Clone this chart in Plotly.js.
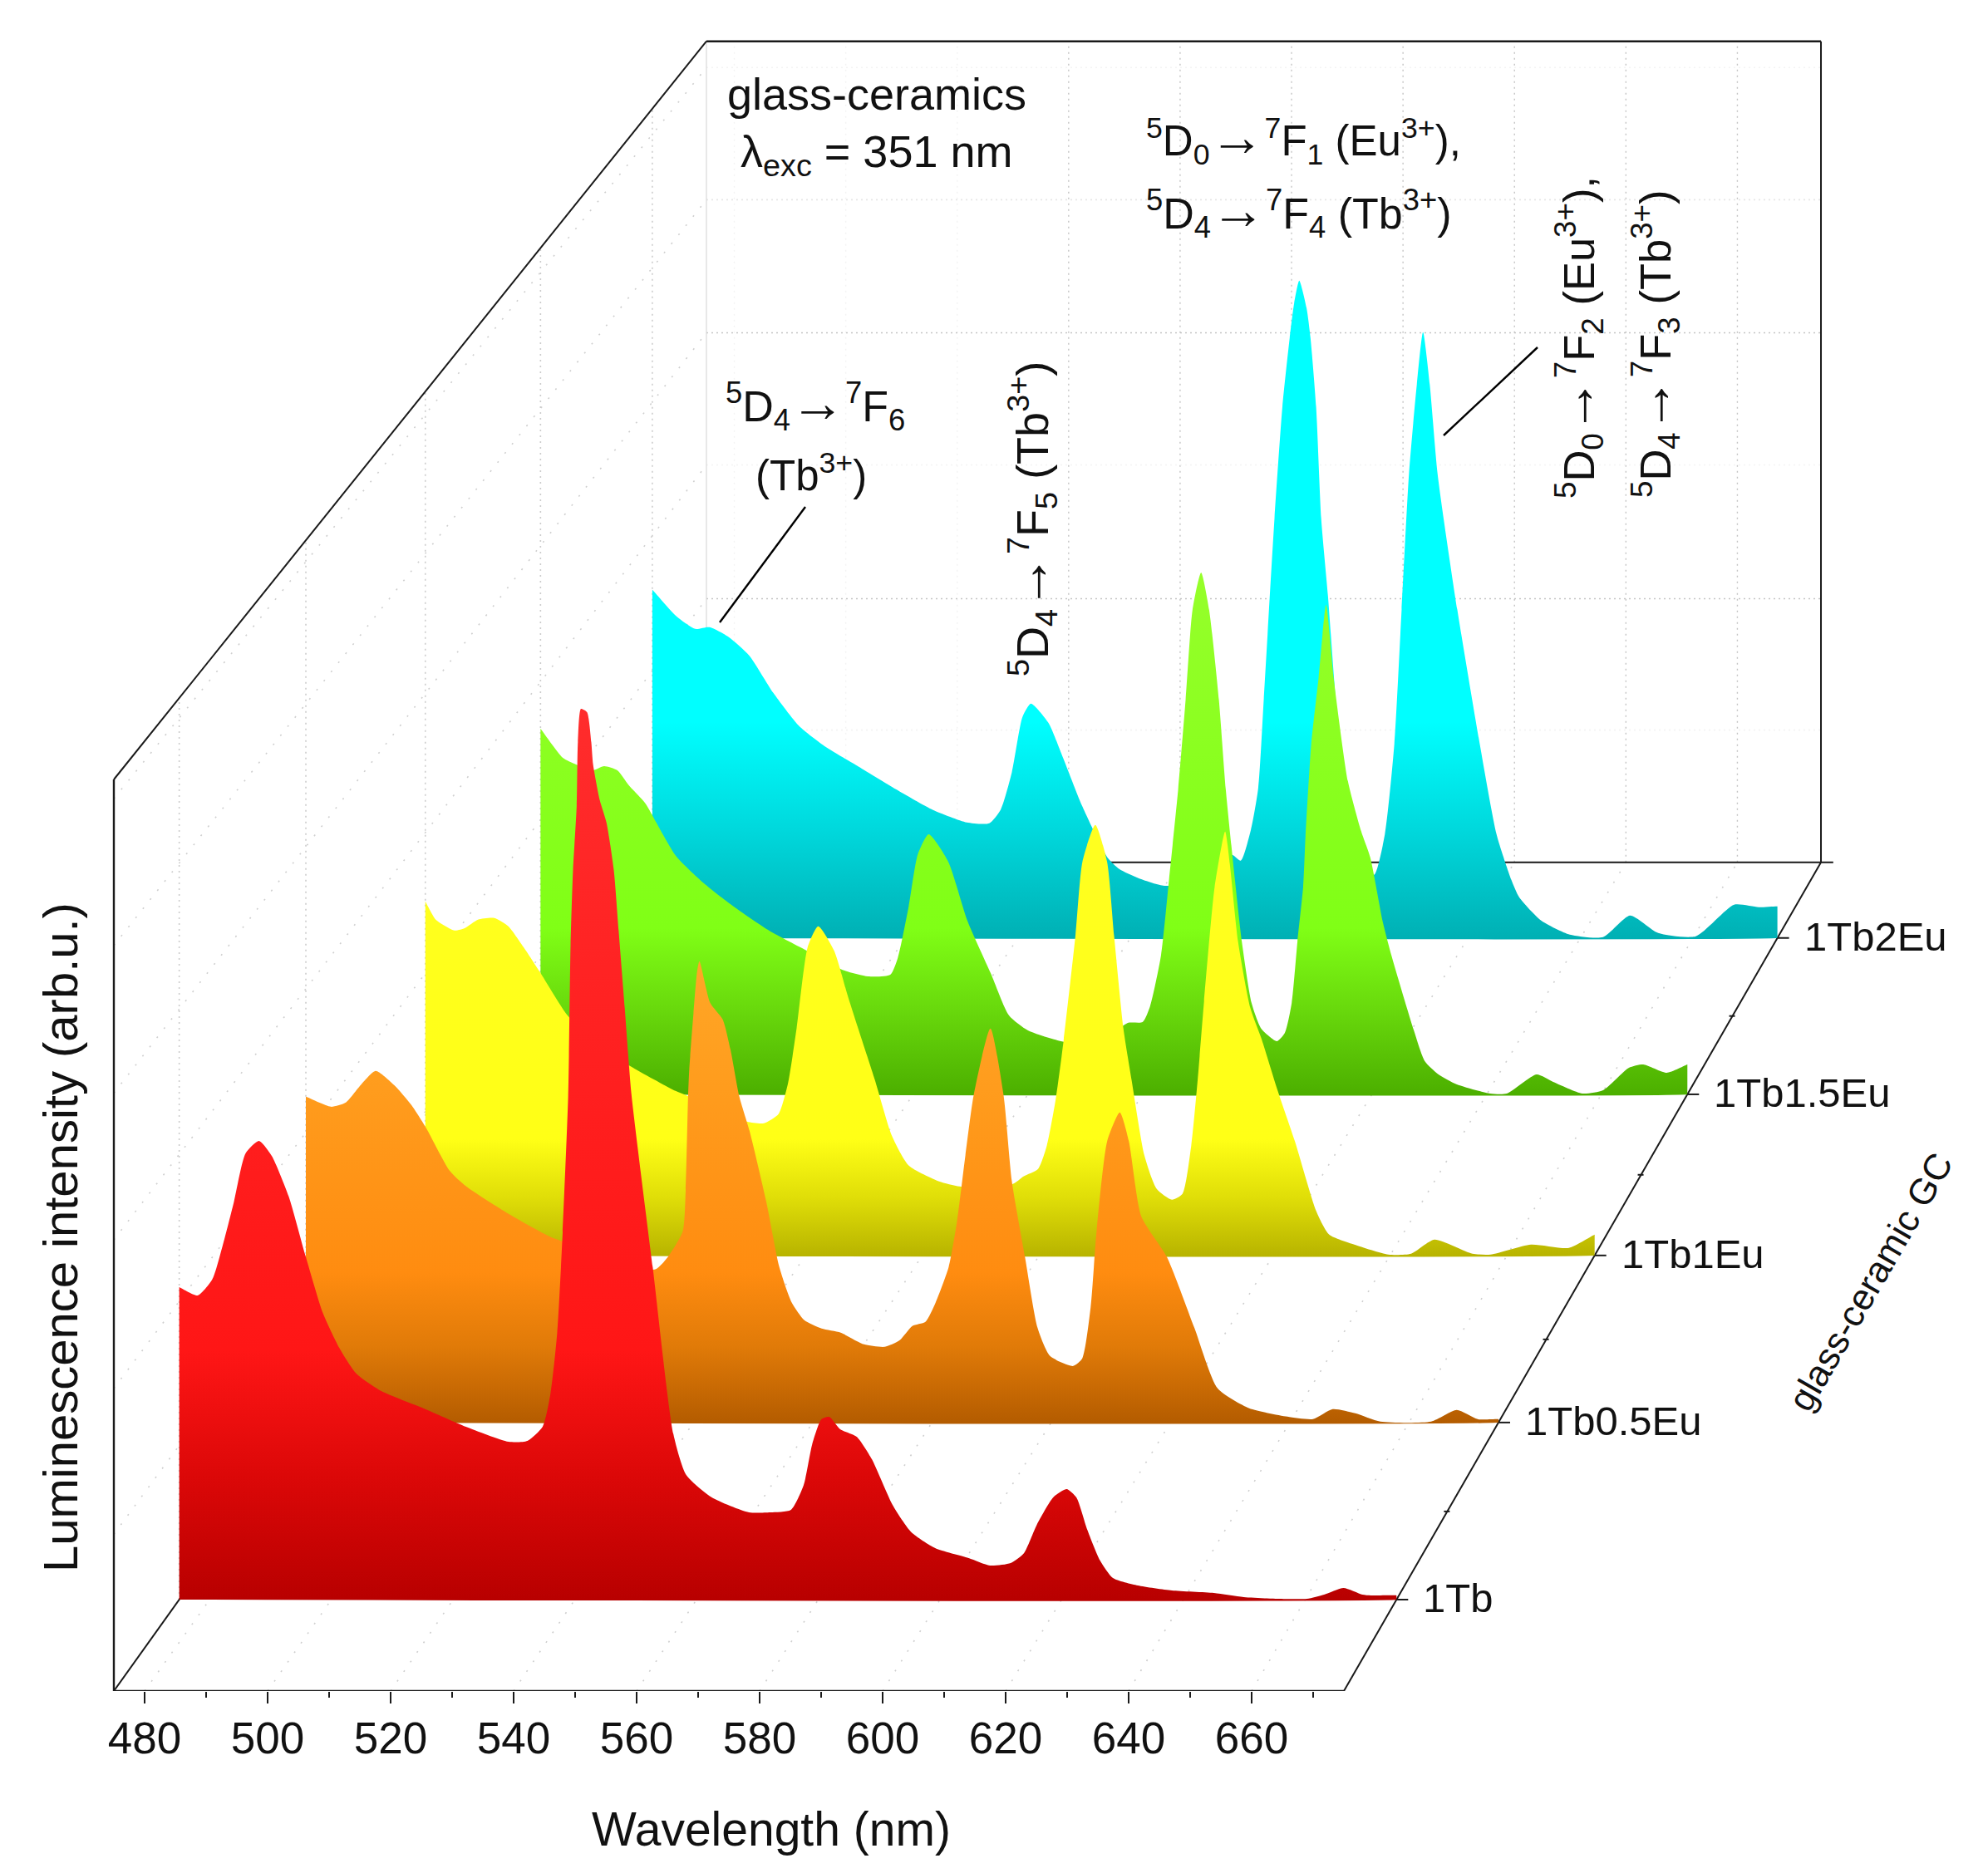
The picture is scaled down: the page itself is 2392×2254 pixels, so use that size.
<!DOCTYPE html>
<html><head><meta charset="utf-8">
<script src="https://cdn.plot.ly/plotly-3.0.1.min.js"></script>
<style>html,body{margin:0;padding:0;background:#fff}</style></head>
<body><div id="chart" style="width:2392px;height:2254px"></div>
<script>
// ---------- data ----------
const seriesNames = ['1Tb2Eu','1Tb1.5Eu','1Tb1Eu','1Tb0.5Eu','1Tb'];
const depthValues = [0.9087,0.720,0.5256,0.324,0.1103];
const wavelengthTicks = [480,500,520,540,560,580,600,620,640,660];
const wavelengthMinorTicks = [490,510,530,550,570,590,610,630,650,670];
const depthMinorTicks = [0.2167,0.4243,0.6229,0.8145];

const wl1Tb = [475,478,480.4,482.5,484,485.9,488.1,490.2,493,495.7,498.6,501.3,504.1,508.2,515.2,522.1,529.1,532.2,534.7,536,537.1,538,538.9,539.3,539.7,540.3,540.5,541,542,542.7,543,544.1,545.2,546.4,547.2,548.2,549.3,552.8,556.2,558.3,562.5,568.6,572.1,575.5,577.6,579,580.5,581.8,583.6,586.3,588.8,592.2,595.3,599.2,604.7,608.2,611.6,613.8,615.9,618.6,620.8,622.4,624.2,626.3,628.4,632.5,638.1,645,649.9,655.5,660.3,663.1,666.3,669.4,670.8,675];
const int1Tb = [37.6,36.6,38.5,43.6,47.9,53.7,55.2,53.4,48.5,41.5,34.5,30.3,27.2,25.1,23,20.8,19,19.1,20.8,24.8,32.1,44.2,60.5,78.8,87.8,95.5,103.2,107.2,106.8,103.2,100.5,96.2,93.5,87.8,80.5,71.2,60.8,40,19.9,15,12.3,10.5,10.5,10.8,13.8,18.7,21.7,22,20.5,19.6,16.9,11.4,8.1,6.2,5,4.1,4.4,5.6,9,12.3,13.3,12.3,8.4,4.7,2.6,1.7,1.1,0.8,0.3,0.1,0.1,0.6,1.4,0.6,0.5,0.5];

const wl05 = [475,479.2,481.7,484.2,486.7,489.8,492.7,495.2,499.1,501.9,509,516.1,521.5,533.5,535.7,538.2,538.7,539.1,539.3,540,540.6,541,542.8,544.9,546.2,547.7,549.4,552.2,554.4,556.5,558.6,561.5,564.7,568.6,572.1,574.6,576.7,578.9,580.6,582.8,584.2,585.6,587,589.8,592,593.4,595.6,597.7,599.8,603.7,605.2,606.6,607.6,609.4,611.5,613,615.1,619.4,624,627.9,633.2,639.6,643.9,647.2,651,655.2,663.7,668,671.5,675];
const int05 = [39.2,38,38.5,40.6,42.3,40.6,38.2,35.4,30.3,28.4,25.1,22.3,21,18.4,19.9,23,28,39.2,42.5,49.2,54.2,55.5,50.5,48.5,44.9,39.2,35.1,26.6,18.7,14.4,12.3,11.3,10.8,9.4,9.1,9.9,11.6,12.1,14.4,18.7,24.2,32.1,39.4,47.4,39.4,29,19.9,11.4,8,6.8,7.7,13.8,23,33.9,37.3,33.9,24.8,19.9,11.4,4.1,1.7,0.7,0.4,1.6,1.1,0.1,0.1,1.5,0.4,0.4];

const wl10 = [475,476.8,480,481.8,484,486.8,489.2,491.8,494.6,499.3,504.1,510,517.8,519.5,530,532.9,535.4,537,538.5,540.4,542.2,544.9,547.4,551.9,554.8,557.7,562.9,566.4,575.5,577.3,579.8,581.3,582.8,584.2,586.2,587.4,589.6,591.6,592.8,594.4,595.8,598,600.1,602.7,604.5,606,607.1,608.2,610,611.8,612.6,614,616.1,618,620.8,623.7,627.4,629.6,633.9,639.7,643.6,647.6,654.1,657.2,664.1,670.6,675];
const int10 = [42.6,40.4,39.1,39.4,40.4,40.6,39.6,37.1,34.1,28.9,25.5,22.8,19.8,19.3,16.1,15.9,17,20.6,27.3,37.1,39.6,36.7,30.9,21.1,14.4,10.8,8.9,8.3,8.6,9.5,10.4,13.2,18.7,26,38.5,47.4,51.8,47.4,38.5,27.3,21.1,12,8,6.7,7.4,13.2,21.1,30.6,44.3,51,47.1,37.8,29.8,26.1,19.8,13.8,5.3,2.5,1.3,0.1,0.2,1.9,0.2,0.1,1.3,0.9,2.5];

const wl15 = [475,478.9,481.2,484.1,486.1,488.4,490.4,493.3,495.2,498.6,503.5,508.5,514.9,521.7,527.6,532.1,536,537.3,539.2,540.8,542.7,546.1,549.5,553.5,556.7,560,566.4,572,577.4,580,581.3,583.2,584.6,586.2,587.5,588.7,590.2,591.6,593.3,594.5,596.1,597.3,599,600.7,603.4,604.8,606,607,608,608.4,609.4,610.7,612,613.3,615.8,618.1,619.7,621.9,623.4,627.3,629.2,631.6,634.8,640.6,643.5,648.7,651.6,656.7,660.3,664.8,667.3,671.4,675];
const int15 = [44,40.5,39.7,39,39.5,39,37.2,35,32.7,28.7,25.4,22.7,19.7,17.2,15,14.2,14.4,16.4,22.6,28.9,31.3,28,20.8,14.6,9.5,7.7,6.3,6,8.6,8.7,10.6,16.7,25.8,36.7,47.5,58.3,62.8,58.3,47.5,36.7,25.8,18.4,11,7.9,6.4,7.4,11,18.4,25,31,42.1,50.2,58.9,50.2,37.7,31.7,28.5,20.7,16.7,7.7,4,2.4,1.2,0.1,0.1,2.4,1.5,0.1,0.5,3.2,3.6,2.6,3.6];

const wl20 = [475,479.3,482.6,485.2,488.6,492.2,496.5,501.1,505.8,511.7,518.3,524.9,530.9,534.9,536.9,538.9,540.8,542.3,545.4,548,551.4,556,558,561.4,565.8,571.7,575.4,578.1,579.6,581.4,582.7,583.7,585.6,587,588.3,589.1,590,591.3,592,593,593.9,595.1,597.2,599.9,603.3,605.2,606.9,608.2,609.5,610.9,612,613.2,614.6,618.1,622.1,625.1,627.7,629.1,633,638.1,644,648.8,653.8,660.5,667.3,671.7,675];
const int20 = [41.9,38.7,37.2,37.4,36.2,34,29.5,25.5,23,20.6,17.9,15.4,13.9,13.8,15.4,19.9,26.6,28.2,25.9,21.7,15.9,9.6,8.3,7.2,6.3,6.6,9.5,10,9.3,13,18,28.8,50.5,63.9,72.2,76.4,79.1,75.8,72.2,63.9,50.5,41.2,23,11,7.6,12.4,23.3,39.5,55.8,66.6,72.9,66.6,55.8,39.5,23.3,12.4,7,4.9,2.1,0.4,0.1,2.7,0.6,0.2,4,3.7,3.8];

const seriesWl = [wl20,wl15,wl10,wl05,wl1Tb];
const seriesInt = [int20,int15,int10,int05,int1Tb];

// ---------- oblique projection of (wavelength, depth, intensity) on the plot plane ----------
const X0=475, X1=675, PXNM=7.4, PXINT=10, AXBOTTOM=2035, W=2392, H=2254, FRONTLEFT=137;
const SKEW=96.35, SHRINK=0.0939, LIFT=99.73;
const px=(wl,t)=>X0+SKEW*t+(wl-X0)*(1-SHRINK*t);
const py=(i,t)=>LIFT*t+i;
const WALLH=109.7, WALLSHRINK=10.9;
const wallY=(f,t)=>LIFT*t+f*(WALLH-WALLSHRINK*t);
const fromPx=(x,y)=>({x:X0+(x-FRONTLEFT)/PXNM,y:(AXBOTTOM-y)/PXINT});

// ---------- styles ----------
const gradients = [
 {c:[[0,'#00b0b4'],[0.5,'#00d8dc'],[1,'#00ffff']],h:26},
 {c:[[0,'#4caf00'],[0.5,'#68d80c'],[1,'#80ff16'],],h:20},
 {c:[[0,'#b8b400'],[0.5,'#e0de08'],[1,'#ffff16']],h:14},
 {c:[[0,'#b45c00'],[0.5,'#e07a08'],[1,'#ff8c10']],h:18},
 {c:[[0,'#b80000'],[0.5,'#dc0808'],[1,'#ff1616']],h:30}];
const topColors=['#00ffff','#96ff2a','#ffff20','#ffa726','#ff2c2c'];

// ---------- traces ----------
const E=0.02;
const traces = seriesNames.map((n,k)=>{
  const t=depthValues[k], wl=seriesWl[k], it=seriesInt[k];
  const xs=[px(X0,t),px(X0,t)], ys=[py(0,t),py(E,t)];
  xs.push(px(X0,t)); ys.push(py(it[0]-E,t));
  wl.forEach((v,j)=>{xs.push(px(v,t));ys.push(py(it[j],t));});
  const xe=px(X1,t), last=it[it.length-1];
  xs.push(xe,xe,xe-0.002,px(X0,t)+0.002); ys.push(py(last-E,t),py(E,t),py(0,t),py(0,t));
  const maxI=Math.max(...it), g=gradients[k];
  const cs=g.c.map(([f,c])=>[f*g.h/maxI,c]);
  cs.push([1,topColors[k]]);
  return {type:'scatter',mode:'lines',name:n,x:xs,y:ys,fill:'toself',
    line:{width:0,color:topColors[k],shape:'spline',smoothing:0.6,simplify:false},hoverinfo:'name',
    fillgradient:{type:'vertical',start:py(0,t),stop:py(maxI,t),colorscale:cs}};
});

// ---------- shapes ----------
const shapes=[];
const seg=(x0,y0,x1,y1,color,width,dash,layer)=>shapes.push({type:'line',xref:'x',yref:'y',x0,y0,x1,y1,layer:layer||'below',line:{color,width,dash:dash||'solid'}});
const GRID='#c4c4c4', FAINT='#f3f3f3';
// floor lines
wavelengthTicks.forEach(w=>seg(px(w,0),py(0,0),px(w,1),py(0,1),'#cfcfcf',1.6,'2px,12px'));
// back wall verticals
wavelengthTicks.forEach(w=>seg(px(w,1),wallY(0,1),px(w,1),wallY(1,1),w>=540?GRID:FAINT,1.4,'2px,5px'));
// wall horizontals + left wall diagonals
[[0.161,FAINT],[0.321,GRID],[0.484,FAINT],[0.645,GRID],[0.807,'#e6e6e6'],[0.968,FAINT]].forEach(([f,c])=>{
  seg(px(X0,1),wallY(f,1),px(X1,1),wallY(f,1),c,1.6,'2px,4px');
  seg(px(X0,0),wallY(f+0.011,0),px(X0,1),wallY(f,1),'#cfcfcf',1.6,'2px,12px');
});
// left wall verticals
depthValues.forEach(t=>seg(px(X0,t),wallY(0,t),px(X0,t),wallY(1,t),'#cccccc',1.6,'2px,5px'));
seg(px(X0,1),wallY(0,1),px(X0,1),wallY(1,1),'#d8d8d8',1.2,'solid');
// box edges
const BK='#1a1a1a';
seg(px(X0,0),wallY(0,0),px(X1,0),wallY(0,0),BK,2.4);
seg(px(X0,0),wallY(0,0),px(X0,0),wallY(1,0),BK,2.4);
seg(px(X0,0),wallY(1,0),px(X0,1),wallY(1,1),BK,2);
seg(px(X0,0),wallY(0,0),px(X0,1),wallY(0,1),BK,2);
seg(px(X1,0),wallY(0,0),px(X1,1),wallY(0,1),BK,2);
seg(px(X0,1),wallY(1,1),px(X1,1),wallY(1,1),BK,2.4);
seg(px(X1,1),wallY(0,1),px(X1,1),wallY(1,1),BK,2);
seg(px(X0,1),wallY(0,1),px(X1,1)+2,wallY(0,1),BK,2);
// depth ticks
depthValues.forEach(t=>seg(px(X1,t),py(0,t),px(X1,t)+14/PXNM,py(0,t),BK,2,'solid','above'));
depthMinorTicks.forEach(t=>seg(px(X1,t)-4/PXNM,py(0,t),px(X1,t)+3/PXNM,py(0,t),BK,2,'solid','above'));
// leader lines
[[866,749,969,610],[1737,524,1850,418]].forEach(([a,b,c,d])=>{
  const p=fromPx(a,b),q=fromPx(c,d); seg(p.x,p.y,q.x,q.y,'#000',2.4,'solid','above');
});

// ---------- text ----------
const FONT='"Liberation Sans", Arial, sans-serif';
const ARROW='<span style="font-size:66px">→</span>';
const note=(text,x,y,size,opts)=>{const p=fromPx(x,y);
  return Object.assign({text,x:p.x,y:p.y,xref:'x',yref:'y',showarrow:false,font:{family:FONT,size,color:'#111'},xanchor:'center',yanchor:'middle'},opts||{});};
const annotations=[
 {text:'Wavelength (nm)',x:(928)/W,y:(AXBOTTOM-2201)/AXBOTTOM,xref:'paper',yref:'paper',showarrow:false,
  font:{family:FONT,size:57,color:'#111'},xanchor:'center',yanchor:'middle'},
 note('Luminescence intensity (arb.u.)',72,1489,58,{textangle:-90}),
 note('glass-ceramic GC',2250,1542,44,{textangle:-60}),
 note('glass-ceramics',873,113,54,{xanchor:'left'}),
 note('λ<sub>exc</sub> = 351 nm',889,186,54,{xanchor:'left'}),
 note('<sup>5</sup>D<sub>0</sub>'+ARROW+'<sup>7</sup>F<sub>1</sub> (Eu<sup>3+</sup>),',1377,166,51,{xanchor:'left'}),
 note('<sup>5</sup>D<sub>4</sub>'+ARROW+'<sup>7</sup>F<sub>4</sub> (Tb<sup>3+</sup>)',1377,254,52,{xanchor:'left'}),
 note('<sup>5</sup>D<sub>4</sub>'+ARROW+'<sup>7</sup>F<sub>6</sub>',871,486,52,{xanchor:'left'}),
 note('(Tb<sup>3+</sup>)',976,569,51),
 note('<sup>5</sup>D<sub>4</sub>'+ARROW+'<sup>7</sup>F<sub>5</sub> (Tb<sup>3+</sup>)',1240,625,54,{textangle:-90}),
 note('<sup>5</sup>D<sub>0</sub>'+ARROW+'<sup>7</sup>F<sub>2</sub> (Eu<sup>3+</sup>),',1897,406,52.5,{textangle:-90}),
 note('<sup>5</sup>D<sub>4</sub>'+ARROW+'<sup>7</sup>F<sub>3</sub> (Tb<sup>3+</sup>)',1989,414,52.5,{textangle:-90}),
];
seriesNames.forEach((n,k)=>{const t=depthValues[k];
  annotations.push({text:n,x:px(X1,t)+30/PXNM,y:py(0,t)+0.2,xref:'x',yref:'y',showarrow:false,xanchor:'left',yanchor:'middle',font:{family:FONT,size:49,color:'#111'}});
});

const layout={width:W,height:H,autosize:false,showlegend:false,paper_bgcolor:'#fff',plot_bgcolor:'#fff',
 margin:{l:0,r:0,t:0,b:H-AXBOTTOM,pad:0},
 xaxis:{range:[X0-FRONTLEFT/PXNM,X0+(W-FRONTLEFT)/PXNM],tickvals:wavelengthTicks,ticktext:wavelengthTicks.map(String),
   ticks:'outside',ticklen:14,tickwidth:2.4,tickcolor:BK,showgrid:false,zeroline:false,showline:false,
   tickfont:{family:FONT,size:53,color:'#111'},ticklabelstandoff:-4,
   minor:{tickvals:wavelengthMinorTicks,ticks:'outside',ticklen:7,tickwidth:2.4,tickcolor:BK,showgrid:false}},
 yaxis:{range:[0,AXBOTTOM/PXINT],visible:false,showgrid:false,zeroline:false},
 shapes,annotations};
Plotly.newPlot('chart',traces,layout,{staticPlot:true,displayModeBar:false});
</script></body></html>
